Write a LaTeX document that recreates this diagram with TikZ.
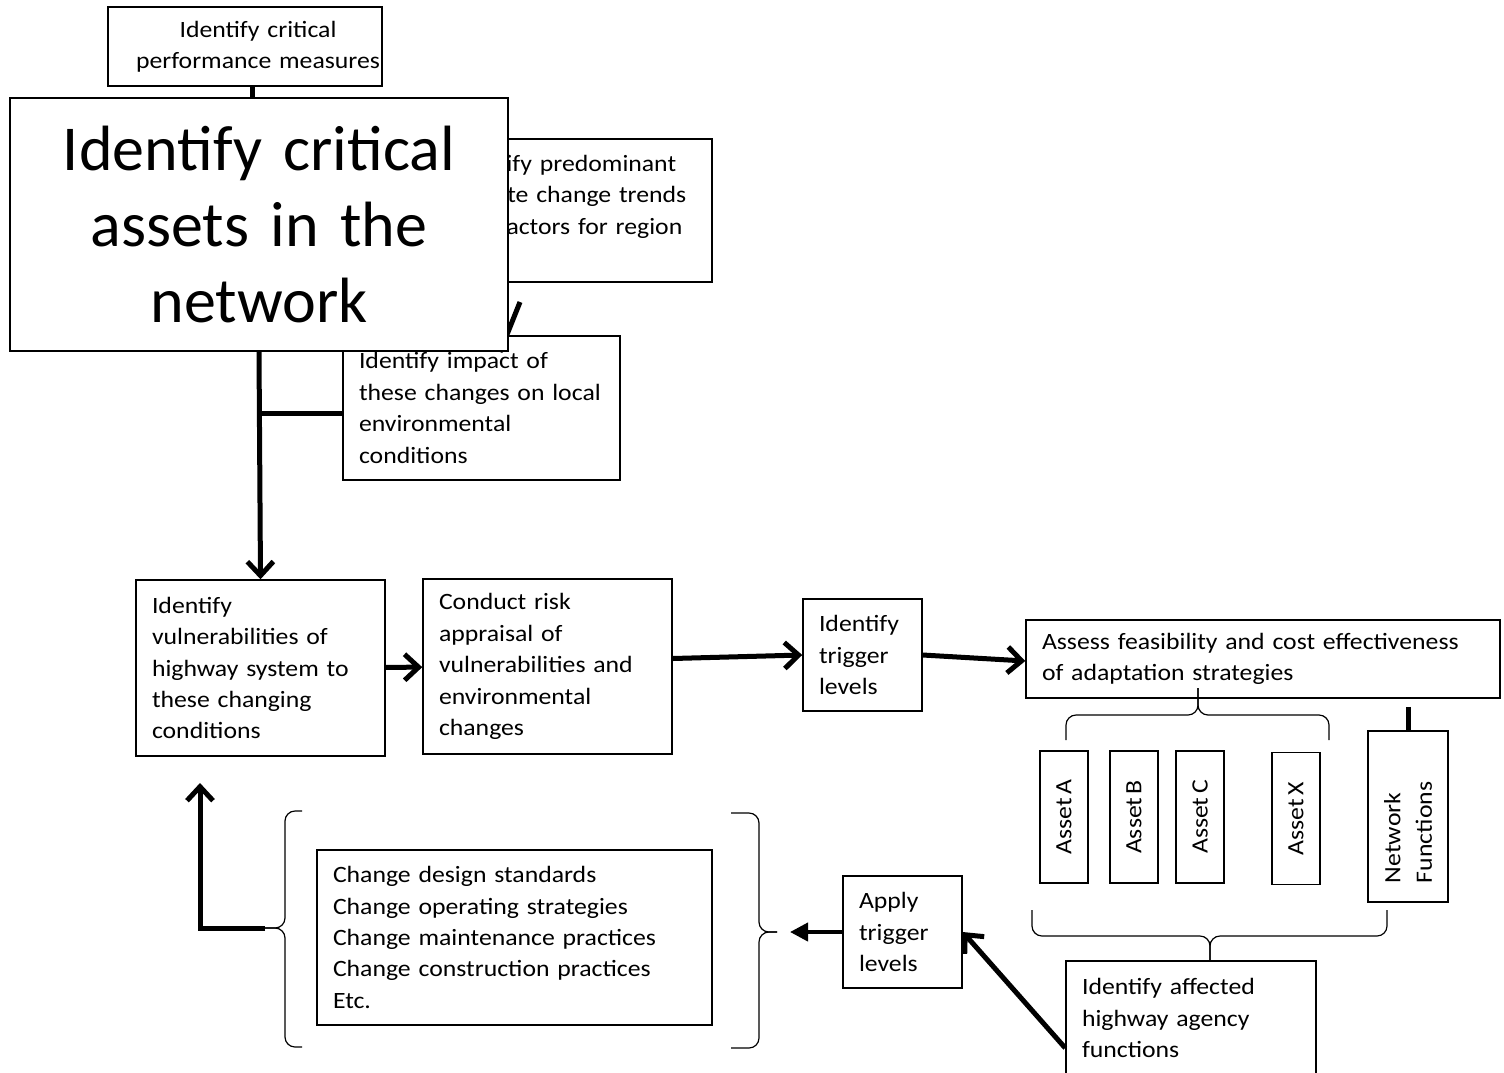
\documentclass[tikz,border=0pt]{standalone}
\usepackage{fontspec}
\setmainfont{Carlito}[FakeStretch=1.1, WordSpace=0.6]
\newfontfamily\bigfamily{Carlito}[WordSpace=0.8]
\usetikzlibrary{arrows.meta,calc}
\pgfdeclarelayer{front}
\pgfsetlayers{main,front}
\newcommand{\txt}{\fontsize{11.7}{15.7}\selectfont}
\newcommand{\bigtxt}{\bigfamily\fontsize{32}{38}\selectfont}
\tikzset{
  blk/.style={draw=black, line width=.75pt, fill=white, align=left,
    inner xsep=8pt, inner ysep=0pt, font=\txt},
  ctr/.style={blk, align=center, inner xsep=2pt},
  ast/.style={draw=black, line width=.75pt, fill=white, rotate=90,
    minimum width=66pt, minimum height=24pt, inner sep=0pt, font=\txt},
  link/.style={line width=2.5pt},
  flow/.style={-{Straight Barb[length=7pt,width=13pt]}, line width=2.5pt},
  sflow/.style={-{Triangle[length=9pt,width=9pt]}, line width=2pt},
  brc/.style={line width=.6pt, rounded corners=5pt}
}

\begin{document}
\begin{tikzpicture}[x=0.5pt, y=-0.5pt]
  \useasboundingbox (0,0) rectangle (1504,1072);

  % upper column
  \node[ctr, text width=137pt, inner xsep=0pt, minimum height=39.5pt] (pm) at (245,46.5)
    {\hspace*{13pt}Identify critical\\\hspace*{13pt}performance measures};
  \node[blk, text width=122pt, minimum height=71.5pt] (trends) at (574,210.5)
    {Identify predominant\\climate change trends\\and factors for region\\~};
  \node[blk, text width=122.5pt, minimum height=72pt] (impact) at (481.5,408)
    {Identify impact of\\these changes on local\\environmental\\conditions};
  \begin{pgfonlayer}{front}
    \node[ctr, font=\bigtxt, text width=245pt, minimum height=126.5pt] (assets) at (259,224.5)
      {Identify critical\\assets in the\\network};
  \end{pgfonlayer}

  % main row
  \node[blk, text width=108.5pt, minimum height=88pt] (vul) at (260.5,668)
    {Identify\\vulnerabilities of\\highway system to\\these changing\\conditions};
  \node[blk, text width=108.5pt, minimum height=87.5pt] (risk) at (547.5,666.5)
    {Conduct risk\\appraisal of\\vulnerabilities and\\environmental\\changes};
  \node[blk, text width=43.5pt, minimum height=56pt] (trig) at (862.5,655)
    {Identify\\trigger\\levels};
  \node[blk, text width=221pt, minimum height=39pt] (assess) at (1263,659)
    {Assess feasibility and cost effectiveness\\of adaptation strategies};

  % assets and functions
  \node[ast] (assetA) at (1064,817) {Asset A};
  \node[ast] (assetB) at (1134,817) {Asset B};
  \node[ast] (assetC) at (1200,817) {Asset C};
  \node[ast] (assetX) at (1296,818.5) {Asset X};
  \node[ast, minimum width=85.5pt, minimum height=40pt, text width=66.5pt,
    inner xsep=9.5pt, align=left] (netfn) at (1408,816.5) {Network\\Functions};

  % bottom row
  \node[blk, text width=109pt, minimum height=57pt] (affected) at (1191,1018)
    {Identify affected\\highway agency\\functions};
  \node[blk, text width=43.5pt, minimum height=56pt] (apply) at (902.5,932)
    {Apply\\trigger\\levels};
  \node[blk, text width=181.5pt, minimum height=87.5pt] (strat) at (514.5,937.5)
    {Change design standards\\Change operating strategies\\Change maintenance practices\\Change construction practices\\Etc.};

  % connectors
  \coordinate (sp) at ([xshift=3.5pt]pm.south);
  \draw[link] (sp) -- (sp |- assets.north);
  \coordinate (slA) at (520,302);
  \coordinate (slB) at (500,352);
  \draw[link] (slA) -- (slB);
  \draw[flow] (assets.south) -- (vul.north);
  \draw[link] ([yshift=-2.5pt]impact.west) -- ([yshift=-2.5pt]impact.west -| assets.south);
  \draw[flow] (vul) -- (risk);
  \draw[flow] ([yshift=4pt]risk.east) -- (trig.west);
  \draw[flow] (trig.east) -- ([yshift=-1pt]assess.west);
  \coordinate (nt) at (netfn.east |- assess.south);
  \draw[link] ([yshift=-4pt]nt) -- (netfn.east);
  \draw[flow] ([yshift=-15pt]affected.west) -- (apply.east);
  \coordinate (rbt) at (790,932);
  \draw[sflow] (apply.west) -- (rbt);
  \coordinate (lbt) at (265,928);
  \coordinate (rt) at (200,783);
  \draw[flow] (lbt) -| (rt);

  % braces
  \draw[brc] (1066,740) |- (1198,715) -- (1198,688);
  \draw[brc] (1329,740) |- (1198,715) -- (1198,688);
  \draw[brc] (1032,910) |- (1210,936) -- (1210,961);
  \draw[brc] (1387,910) |- (1210,936) -- (1210,961);
  \draw[brc] (302,811) -| (285,928) -- (265,928);
  \draw[brc] (302,1047) -| (285,928) -- (265,928);
  \draw[brc] (731,813) -| (759,932) -- (777,932);
  \draw[brc] (731,1048) -| (759,932) -- (777,932);
\end{tikzpicture}
\end{document}
